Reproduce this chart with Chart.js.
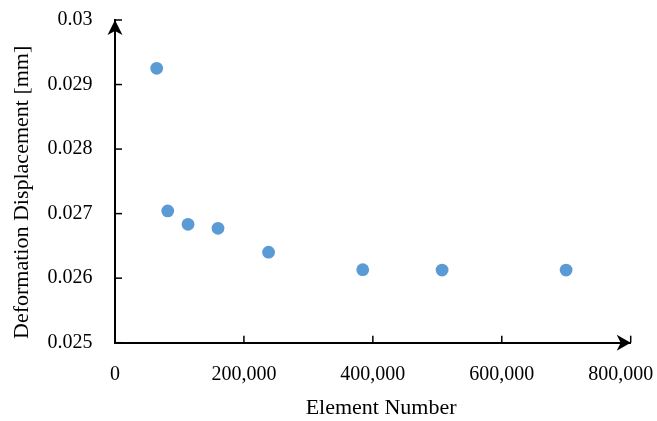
<!DOCTYPE html>
<html><head><meta charset="utf-8">
<script src="https://cdn.jsdelivr.net/npm/chart.js@4"></script>
<style>html,body{margin:0;padding:0;background:#fff;}canvas{display:block}</style>
</head><body>
<canvas id="c" width="657" height="421"></canvas>
<script>
const elementNumbers = [64700, 81800, 113300, 159800, 238200, 384300, 507400, 699800];
const displacements = [0.029252, 0.027041, 0.026834, 0.026772, 0.026402, 0.026131, 0.026126, 0.026126];
const xTickValues = [0, 200000, 400000, 600000, 800000];
const xTickLabels = ['0', '200,000', '400,000', '600,000', '800,000'];
const yTickValues = [0.025, 0.026, 0.027, 0.028, 0.029, 0.03];
const yTickLabels = ['0.025', '0.026', '0.027', '0.028', '0.029', '0.03'];
const xTitle = 'Element Number';
const yTitle = 'Deformation Displacement [mm]';

const FONT = 'Liberation Serif';
const AXIS = '#000000';
const NB = '\u00a0';

const axisDecor = {
  id: 'axisDecor',
  afterDraw(chart) {
    const ctx = chart.ctx;
    const xs = chart.scales.x, ys = chart.scales.y;
    const a = chart.chartArea;
    ctx.save();
    ctx.strokeStyle = AXIS;
    ctx.fillStyle = AXIS;
    ctx.lineWidth = 1.5;
    // inner tick marks
    xTickValues.forEach(v => {
      const px = xs.getPixelForValue(v);
      ctx.beginPath(); ctx.moveTo(px, a.bottom); ctx.lineTo(px, a.bottom - 7); ctx.stroke();
    });
    yTickValues.forEach(v => {
      const py = ys.getPixelForValue(v);
      ctx.beginPath(); ctx.moveTo(a.left, py); ctx.lineTo(a.left + 7, py); ctx.stroke();
    });
    // arrowheads
    const tipX = xs.getPixelForValue(xTickValues[xTickValues.length - 1]);
    const yB = a.bottom;
    ctx.beginPath();
    ctx.moveTo(tipX, yB);
    ctx.lineTo(tipX - 14, yB - 8);
    ctx.lineTo(tipX - 10, yB);
    ctx.lineTo(tipX - 14, yB + 8);
    ctx.closePath(); ctx.fill();
    const tipY = ys.getPixelForValue(yTickValues[yTickValues.length - 1]);
    const xL = a.left;
    ctx.beginPath();
    ctx.moveTo(xL, tipY);
    ctx.lineTo(xL - 7.5, tipY + 15);
    ctx.lineTo(xL, tipY + 11);
    ctx.lineTo(xL + 7.5, tipY + 15);
    ctx.closePath(); ctx.fill();
    ctx.restore();
  }
};

new Chart(document.getElementById('c'), {
  type: 'scatter',
  data: {
    datasets: [{
      data: elementNumbers.map((x, i) => ({x, y: displacements[i]})),
      backgroundColor: '#5B9BD5',
      borderColor: '#5B9BD5',
      borderWidth: 0,
      pointRadius: 6.4,
      pointHoverRadius: 6.4
    }]
  },
  options: {
    responsive: false,
    animation: false,
    devicePixelRatio: 1,
    layout: { padding: { left: 0, top: 20, right: 26.3, bottom: 0 } },
    plugins: { legend: { display: false }, tooltip: { enabled: false } },
    scales: {
      x: {
        type: 'linear',
        min: xTickValues[0],
        max: xTickValues[xTickValues.length - 1],
        afterBuildTicks: s => { s.ticks = xTickValues.map(v => ({value: v})); },
        afterFit: s => { s.height = 78.3; s.paddingLeft = 0; s.paddingRight = 0; },
        grid: { display: false, drawTicks: false },
        border: { display: true, color: AXIS, width: 2 },
        ticks: {
          padding: 20,
          maxRotation: 0,
          autoSkip: false,
          color: '#000',
          font: { family: FONT, size: 20 },
          callback: (v, i) => i === xTickLabels.length - 1 ? xTickLabels[i] + NB.repeat(4) : xTickLabels[i]
        },
        title: {
          display: true, text: NB.repeat(3) + xTitle, color: '#000',
          font: { family: FONT, size: 22 },
          padding: { top: 0, bottom: 0 }
        }
      },
      y: {
        type: 'linear',
        min: yTickValues[0],
        max: yTickValues[yTickValues.length - 1],
        afterBuildTicks: s => { s.ticks = yTickValues.map(v => ({value: v})); },
        afterFit: s => { s.width = 115; s.paddingTop = 0; s.paddingBottom = 0; },
        grid: { display: false, drawTicks: false },
        border: { display: true, color: AXIS, width: 2 },
        ticks: {
          padding: 22.5,
          autoSkip: false,
          color: '#000',
          font: { family: FONT, size: 20 },
          callback: (v, i) => yTickLabels[i]
        },
        title: {
          display: true, text: yTitle + NB.repeat(4), color: '#000',
          font: { family: FONT, size: 22 },
          padding: { top: 9, bottom: 0 }
        }
      }
    }
  },
  plugins: [axisDecor]
});
</script>
</body></html>
